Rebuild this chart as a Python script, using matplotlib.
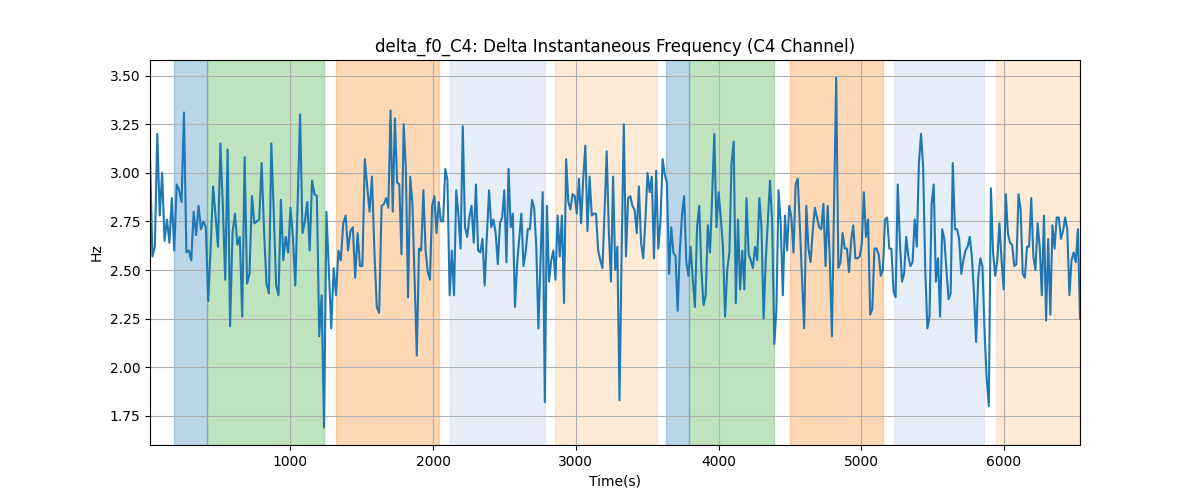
import matplotlib
matplotlib.use("Agg")
import matplotlib.pyplot as plt
import numpy as np

# Delta f0 (Hz), in chunks of ~810 s
# (time of the first sample of each chunk, plus the final sample time)
seg_edges = [17, 867, 1656, 2469, 3291, 4106, 4914, 5715, 6532]

freq_seg1 = [3.08, 2.57, 2.62, 3.20, 2.78, 3.00, 2.65, 2.76, 2.64, 2.87, 2.60, 2.94, 2.91,
             2.85, 3.31, 2.59, 2.60, 2.55, 2.80, 2.68, 2.83, 2.71, 2.75, 2.72, 2.34, 2.62,
             2.93, 2.78, 2.62, 3.15, 2.83, 2.45, 3.12, 2.21, 2.69, 2.79, 2.63, 2.67, 2.26,
             3.08, 2.43, 2.48, 2.88, 2.74, 2.75, 2.76, 3.05, 2.70, 2.43, 2.38]
freq_seg2 = [3.15, 2.80, 2.42, 2.37, 2.86, 2.55, 2.67, 2.59, 2.82, 2.67, 2.42, 2.85, 3.30,
             2.69, 2.75, 2.85, 2.60, 2.96, 2.89, 2.88, 2.16, 2.37, 1.69, 2.80, 2.50, 2.20,
             2.51, 2.37, 2.60, 2.55, 2.74, 2.78, 2.60, 2.70, 2.72, 2.46, 2.69, 2.52, 2.52,
             3.07, 2.93, 2.80, 2.98, 2.60, 2.31, 2.28, 2.83]
freq_seg3 = [2.84, 2.87, 2.82, 3.32, 2.80, 3.28, 2.95, 2.94, 2.58, 3.25, 3.02, 2.36, 2.98,
             2.84, 2.45, 2.06, 2.61, 2.60, 2.91, 2.60, 2.49, 2.45, 2.83, 2.88, 2.69, 2.85,
             2.75, 2.75, 3.02, 2.96, 2.37, 2.60, 2.37, 2.91, 2.78, 2.61, 3.24, 2.72, 2.67,
             2.77, 2.83, 2.64, 2.94, 2.60, 2.59, 2.66, 2.42, 2.68, 2.91, 2.72, 2.76, 2.69, 2.53]
freq_seg4 = [2.74, 2.77, 2.91, 2.54, 3.02, 2.72, 2.79, 2.31, 2.53, 2.66, 2.79, 2.52, 2.59,
             2.71, 2.71, 2.86, 2.82, 2.62, 2.20, 2.55, 2.90, 1.82, 2.83, 2.44, 2.55, 2.60,
             2.45, 2.78, 2.57, 2.78, 2.33, 3.07, 2.85, 2.81, 2.89, 2.88, 2.79, 2.97, 2.74,
             2.97, 3.14, 2.70, 2.98, 2.78, 2.79, 2.79, 2.60, 2.55, 2.51, 2.80, 3.11, 2.70,
             2.44, 2.98, 2.50]
freq_seg5 = [2.62, 1.83, 2.60, 3.25, 2.57, 2.87, 2.88, 2.83, 2.81, 2.69, 2.93, 2.64, 2.56,
             2.75, 3.00, 2.90, 2.98, 2.56, 3.01, 2.61, 2.75, 3.07, 2.99, 2.95, 2.48, 2.72,
             2.59, 2.57, 2.29, 2.60, 2.78, 2.88, 2.54, 2.47, 2.62, 2.45, 2.31, 2.72, 2.83,
             2.50, 2.32, 2.37, 2.73, 2.59, 2.88, 3.20, 2.72, 2.90, 2.77, 2.62, 2.26, 2.50,
             2.59, 3.05]
freq_seg6 = [3.16, 2.33, 2.76, 2.40, 2.60, 2.40, 2.87, 2.58, 2.55, 2.51, 2.62, 2.55, 2.87,
             2.72, 2.25, 2.55, 2.75, 2.96, 2.75, 2.12, 2.30, 2.91, 2.74, 2.37, 2.78, 2.60,
             2.83, 2.77, 2.59, 2.94, 2.97, 2.72, 2.45, 2.20, 2.83, 2.61, 2.54, 2.70, 2.82,
             2.77, 2.72, 2.71, 2.84, 2.52, 2.83, 2.55, 2.16, 2.85, 3.49, 2.51, 2.54, 2.69,
             2.61, 2.61]
freq_seg7 = [2.49, 2.65, 2.73, 2.56, 2.56, 2.57, 2.63, 2.90, 2.67, 2.76, 2.27, 2.30, 2.61,
             2.61, 2.58, 2.47, 2.50, 2.76, 2.77, 2.61, 2.61, 2.39, 2.36, 2.94, 2.65, 2.44,
             2.48, 2.67, 2.57, 2.52, 2.54, 2.76, 2.62, 3.05, 3.20, 3.03, 2.50, 2.20, 2.26,
             2.84, 2.94, 2.44, 2.56, 2.26, 2.71, 2.66, 2.50, 2.35, 2.38, 3.05, 2.71, 2.71,
             2.66, 2.48]
freq_seg8 = [2.55, 2.60, 2.62, 2.67, 2.57, 2.38, 2.13, 2.46, 2.56, 2.52, 2.18, 1.94, 1.80,
             2.92, 2.59, 2.47, 2.55, 2.74, 2.55, 2.40, 2.89, 2.69, 2.64, 2.63, 2.52, 2.53,
             2.89, 2.81, 2.48, 2.46, 2.62, 2.62, 2.87, 2.57, 2.50, 2.74, 2.62, 2.37, 2.78,
             2.24, 2.66, 2.27, 2.73, 2.61, 2.77, 2.77, 2.66, 2.70, 2.77, 2.71, 2.37, 2.55,
             2.59, 2.54, 2.71, 2.25]

# labelled intervals (start s, end s, colour)
span_starts = [185, 419, 1320, 2119, 2856, 3632, 3795, 4501, 5231, 5944]
span_ends = [419, 1234, 2040, 2782, 3567, 3795, 4386, 5150, 5860, 6532]
span_colors = ['tab:blue', 'tab:green', 'tab:orange', '#aec7e8', '#ffbb78',
               'tab:blue', 'tab:green', 'tab:orange', '#aec7e8', '#ffbb78']

segments = [freq_seg1, freq_seg2, freq_seg3, freq_seg4,
            freq_seg5, freq_seg6, freq_seg7, freq_seg8]
times = []
for i, seg in enumerate(segments):
    last = i == len(segments) - 1
    times.append(np.linspace(seg_edges[i], seg_edges[i + 1], len(seg), endpoint=last))
t = np.concatenate(times)
freq = np.concatenate(segments)

fig, ax = plt.subplots(figsize=(12, 5), dpi=100)

for s, e, c in zip(span_starts, span_ends, span_colors):
    ax.axvspan(s, e, color=c, alpha=0.3)

ax.plot(t, freq, color='tab:blue', linewidth=1.5)

ax.set_xlim(t[0], t[-1])
ax.set_title('delta_f0_C4: Delta Instantaneous Frequency (C4 Channel)')
ax.set_xlabel('Time(s)')
ax.set_ylabel('Hz')
ax.grid(True)

fig.savefig('out.png')
